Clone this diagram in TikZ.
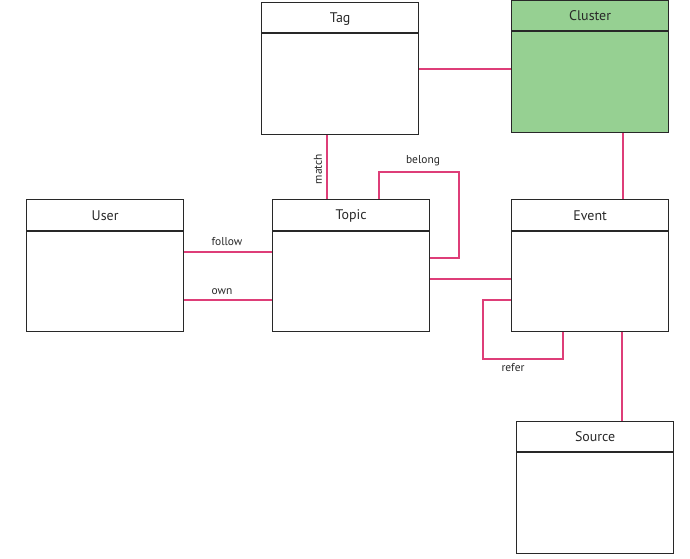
\documentclass[tikz,border=0pt]{standalone}
\usepackage{fontspec}
\setmainfont{PT Sans}
\usetikzlibrary{calc}
\definecolor{edgec}{RGB}{222,62,120}
\definecolor{boxc}{RGB}{40,40,40}
\definecolor{clusterc}{RGB}{150,208,146}
\tikzset{
  box/.style={draw=boxc, line width=1.2bp, anchor=north west, minimum width=157bp, minimum height=132bp, inner sep=0pt},
  title/.style={font=\fontsize{14}{16}\selectfont, text=boxc, anchor=center},
  hline/.style={draw=boxc, line width=1.2bp},
  rel/.style={draw=edgec, line width=1.2bp},
  lbl/.style={font=\fontsize{11.5}{13}\selectfont, text=boxc, inner sep=1pt}
}
\begin{document}
\begin{tikzpicture}[x=1bp,y=-1bp]
\useasboundingbox (0,0) rectangle (690,559);
% boxes
\node[box] (tag) at (261,2) {};
\node[box, fill=clusterc] (cluster) at (511,0) {};
\node[box] (user) at (26,199) {};
\node[box] (topic) at (272,199) {};
\node[box] (event) at (511,199) {};
\node[box] (source) at (516,421) {};
% headers
\draw[hline] ($(tag.north west)+(0,31)$) -- ($(tag.north east)+(0,31)$);
\draw[hline] ($(cluster.north west)+(0,31)$) -- ($(cluster.north east)+(0,31)$);
\draw[hline] ($(user.north west)+(0,32)$) -- ($(user.north east)+(0,32)$);
\draw[hline] ($(topic.north west)+(0,32)$) -- ($(topic.north east)+(0,32)$);
\draw[hline] ($(event.north west)+(0,32)$) -- ($(event.north east)+(0,32)$);
\draw[hline] ($(source.north west)+(0,31)$) -- ($(source.north east)+(0,31)$);
\node[title] (tagT) at ($(tag.north)+(0,17)$) {Tag};
\node[title] (clusterT) at ($(cluster.north)+(0,16)$) {Cluster};
\node[title] (userT) at ($(user.north)+(0,17)$) {User};
\node[title] (topicT) at ($(topic.north)+(0,17)$) {Topic};
\node[title] (eventT) at ($(event.north)+(0,17)$) {Event};
\node[title] (sourceT) at ($(source.north)+(0,16)$) {Source};
% connectors
\draw[rel] ($(tag.north east)+(0,67)$) -- ($(cluster.north west)+(0,69)$);
\draw[rel] ($(tag.south west)+(66,0)$) -- ($(topic.north west)+(55,0)$);
\draw[rel] ($(cluster.south west)+(112,0)$) -- ($(event.north west)+(112,0)$);
\draw[rel] ($(user.north east)+(0,53)$) -- ($(topic.north west)+(0,53)$);
\draw[rel] ($(user.north east)+(0,101)$) -- ($(topic.north west)+(0,101)$);
\draw[rel] ($(topic.north east)+(0,80)$) -- ($(event.north west)+(0,80)$);
\draw[rel] ($(topic.north west)+(107,0)$) -- ++(0,-27) -- ++(80,0) -- ++(0,86) -- ($(topic.north east)+(0,59)$);
\draw[rel] ($(event.north west)+(0,101)$) -- ++(-28,0) -- ++(0,59) -- ++(80,0) -- ($(event.south west)+(52,0)$);
\draw[rel] ($(event.south west)+(111,0)$) -- ($(source.north west)+(106,0)$);
% labels
\node[lbl, rotate=90] (matchL) at (318,169) {match};
\node[lbl] (belongL) at (423,161) {belong};
\node[lbl] (followL) at (227,242) {follow};
\node[lbl] (ownL) at (222,292) {own};
\node[lbl] (referL) at (513,368) {refer};
\end{tikzpicture}
\end{document}
